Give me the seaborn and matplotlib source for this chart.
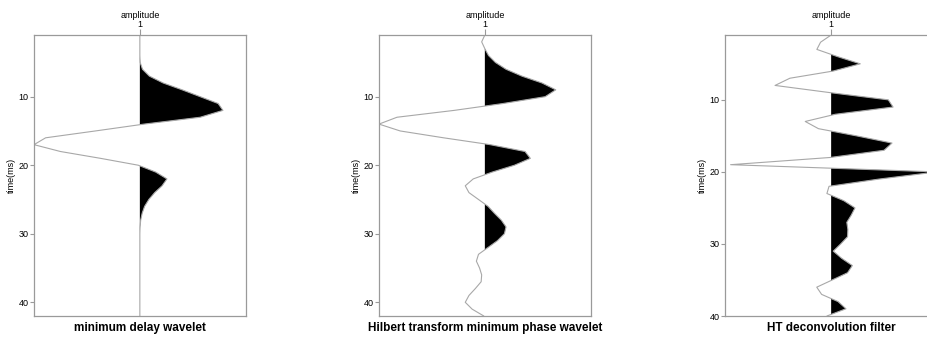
import numpy as np
import pandas as pd
import matplotlib
matplotlib.use("Agg")
import matplotlib.pyplot as plt
import seaborn as sns

# ---- data (normalised amplitudes, one sample per ms) ----
time_a = list(range(1, 43))
min_delay = [0, 0, 0, 0, 0.003, 0.025, 0.09, 0.22, 0.40, 0.57,
             0.74, 0.785, 0.57, 0.04, -0.42, -0.89, -1.0, -0.75, -0.37, -0.015,
             0.15, 0.256, 0.21, 0.14, 0.085, 0.045, 0.022, 0.008, 0.002, 0,
             0, 0, 0, 0, 0, 0, 0, 0, 0, 0, 0, 0]

time_b = list(range(1, 43))
hilbert_min_phase = [0.0, -0.03, 0.0, 0.035, 0.10, 0.20, 0.35, 0.54, 0.67, 0.57,
                     0.17, -0.29, -0.83, -1.0, -0.80, -0.39, 0.05, 0.38, 0.43, 0.28,
                     0.07, -0.11, -0.185, -0.15, -0.06, 0.03, 0.09, 0.155, 0.20, 0.185,
                     0.12, 0.03, -0.06, -0.08, -0.05, -0.03, -0.035, -0.09, -0.15, -0.185,
                     -0.12, -0.01]

time_c = list(range(1, 41))
ht_decon = [0.0, -0.10, -0.135, 0.06, 0.275, 0.02, -0.39, -0.53, -0.01, 0.54,
            0.585, 0.04, -0.245, -0.12, 0.24, 0.575, 0.50, -0.01, -0.95, 1.0,
            0.45, -0.02, -0.04, 0.12, 0.225, 0.19, 0.148, 0.158, 0.155, 0.09,
            0.02, 0.10, 0.20, 0.155, 0.01, -0.136, -0.09, 0.065, 0.14, -0.04]

titles = ["minimum delay wavelet", "Hilbert transform minimum phase wavelet",
          "HT deconvolution filter"]
yticks_vals = [10, 20, 30, 40]
trace_label = "1"

# ---- style ----
sns.set_theme(style="white")
plt.rcParams['font.family'] = ['Liberation Sans', 'DejaVu Sans']
plt.rcParams['text.color'] = 'black'
plt.rcParams['axes.labelcolor'] = 'black'

W, H = 928, 337
fig = plt.figure(figsize=(W / 100, H / 100), dpi=100)

panels = [
    (time_a, min_delay, (42, 1), 34),
    (time_b, hilbert_min_phase, (42, 1), 379),
    (time_c, ht_decon, (40, 1), 725.3),
]

grey = "#9a9a9a"
line_grey = "#a8a8a8"

for (t, amp, ylim, left_px), title in zip(panels, titles):
    ax = fig.add_axes([left_px / W, (H - 316) / H, 211.7 / W, 281 / H])
    df = pd.DataFrame({"time": t, "amp": amp})
    sns.lineplot(data=df, x="amp", y="time", orient="y", sort=False,
                 color=line_grey, lw=0.8, ax=ax, estimator=None)
    a = np.asarray(amp, dtype=float)
    tt = np.asarray(t, dtype=float)
    ax.fill_betweenx(tt, 0, a, where=a > 0, interpolate=True,
                     color="black", lw=0)
    ax.set_xlim(-1, 1)
    ax.set_ylim(*ylim)
    for s in ax.spines.values():
        s.set_color(grey)
        s.set_linewidth(0.9)
        s.set_visible(True)
    ax.xaxis.set_ticks_position('top')
    ax.xaxis.set_label_position('top')
    ax.set_xticks([0])
    ax.set_xticklabels([trace_label])
    ax.set_xlabel("amplitude", fontsize=6.5, labelpad=1, color='black')
    ax.set_yticks(yticks_vals)
    ax.set_ylabel("time(ms)", fontsize=6.5, labelpad=2, color='black')
    ax.tick_params(axis='x', top=True, bottom=False, length=4, width=0.8,
                   color=grey, pad=0.5, labelsize=6.5, labeltop=True,
                   labelbottom=False, labelcolor='black')
    ax.tick_params(axis='y', left=True, length=3, width=0.8, color=grey,
                   pad=1, labelsize=6.5, labelcolor='black')
    ax.text(0.5, -0.043, title, transform=ax.transAxes, ha='center',
            va='center', fontsize=8.5, fontweight='bold', color='black')

fig.savefig("out.png", dpi=100)
